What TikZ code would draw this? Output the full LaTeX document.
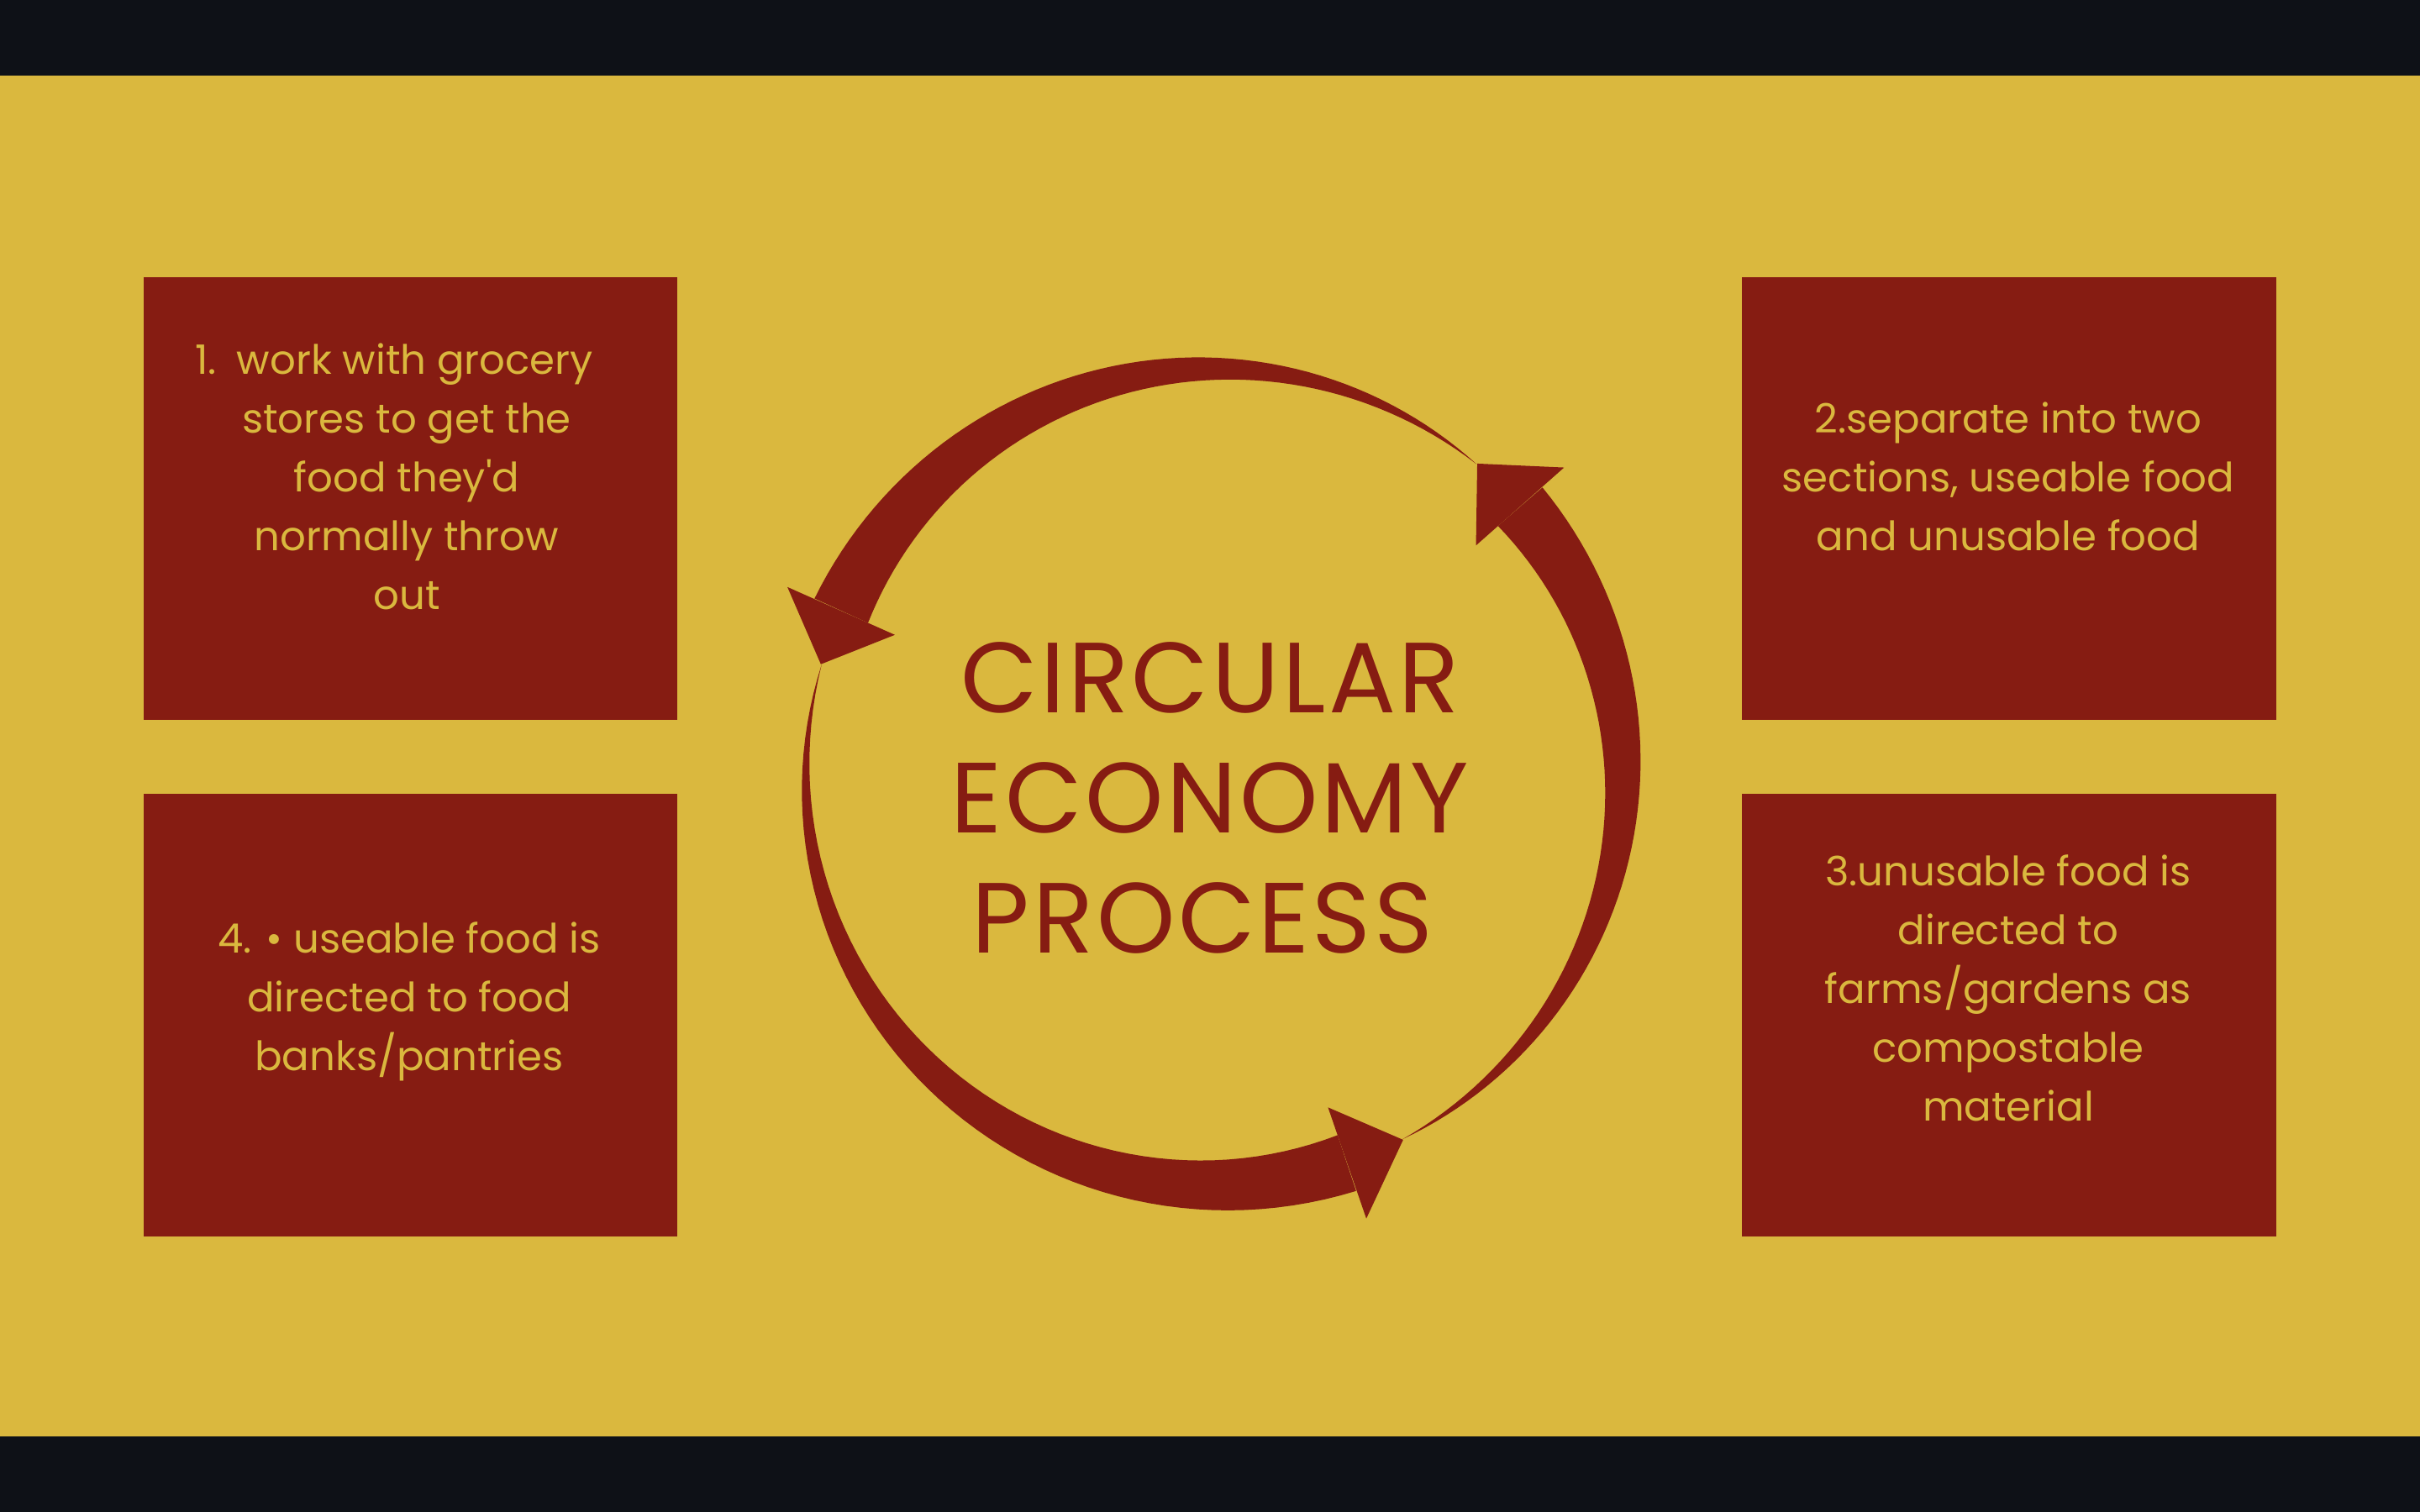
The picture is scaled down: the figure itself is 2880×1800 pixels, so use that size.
\documentclass[tikz,border=0pt]{standalone}
\usepackage{fontspec}
\setmainfont{Poppins}
\definecolor{gold}{HTML}{DAB83E}
\definecolor{boxred}{HTML}{861C12}
\definecolor{barblack}{HTML}{0E1117}

\begin{document}
\begin{tikzpicture}[
    x=0.01cm,
    y=0.01cm,
    stepbox/.style={fill=boxred, inner sep=0pt, minimum width=6.35cm, minimum height=5.27cm},
    steptext/.style={text=gold, align=center, font=\fontsize{13.7}{19.9}\selectfont},
    titletext/.style={text=boxred, align=center, font=\fontsize{33.8}{40.7}\selectfont\addfontfeatures{LetterSpace=3}},
    ringfill/.style={fill=boxred}
]
    % page and bars
    \fill[barblack] (0,0) rectangle (2880,1800);
    \fill[gold] (0,90) rectangle (2880,1710);

    \coordinate (ctr) at (1445, 875);

    % the four steps
    \node[stepbox] (box1) at (488.5, 1206.5) {};
    \node[stepbox] (box2) at (2391, 1206.5) {};
    \node[stepbox] (box3) at (2391, 591.5) {};
    \node[stepbox] (box4) at (488.5, 591.5) {};

    \node[steptext] (step1) at (484, 1233) {1.\enspace work with grocery\hspace*{0.3cm}\\stores to get the\\food they\textquotesingle d\\normally throw\\out};
    \node[steptext] (step2) at (2390, 1233) {2.separate into two\\sections, useable food\\and unusable food};
    \node[steptext] (step3) at (2390, 624) {3.unusable food is\\directed to\\farms/gardens as\\compostable\\material};
    \node[steptext] (step4) at (487, 608) {4. • useable food is\\directed to food\\banks/pantries};

    % ring of three tapered arrows
    \begin{scope}[shift={(ctr)}]
        \foreach \tail/\back/\tip in {50/156/164, 164/289/297.5, 297.5/401.5/410}{
            \fill[ringfill] plot[domain=0:1, samples=60, variable=\t] ({\tail+\t*(\back-\tail)}:{486+35*\t})
                -- plot[domain=1:0, samples=60, variable=\t] ({\tail+\t*(\back-\tail)}:{486-35*\t}) -- cycle;
            \fill[ringfill] (\back:556) -- (\tip:487) -- (\back:416) -- cycle;
        }
    \end{scope}

    \node[titletext] (title) at (1440, 850) {CIRCULAR\\ECONOMY\\PROCESS\hspace*{0.18cm}};

\end{tikzpicture}
\end{document}
